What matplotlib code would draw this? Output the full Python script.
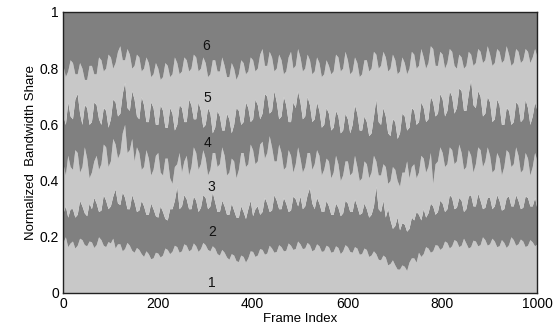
import numpy as np
import matplotlib
matplotlib.use('Agg')
import matplotlib.pyplot as plt

plt.rcParams['font.family'] = ['Liberation Sans', 'DejaVu Sans']

# frame index, sampled every 5 frames
frames = np.arange(0, 1001, 5)

# cumulative share at the top of layers 1..5
top1 = [0.18, 0.2, 0.165, 0.178, 0.185, 0.16, 0.17, 0.195, 0.19, 0.172,
        0.168, 0.185, 0.182, 0.162, 0.172, 0.2, 0.19, 0.17, 0.165, 0.183,
        0.178, 0.195, 0.16, 0.175, 0.175, 0.15, 0.158, 0.18, 0.17, 0.152,
        0.145, 0.162, 0.155, 0.14, 0.13, 0.15, 0.14, 0.122, 0.125, 0.145,
        0.142, 0.128, 0.135, 0.16, 0.155, 0.14, 0.148, 0.17, 0.165, 0.145,
        0.15, 0.175, 0.17, 0.15, 0.155, 0.178, 0.168, 0.148, 0.158, 0.18,
        0.172, 0.155, 0.15, 0.168, 0.16, 0.14, 0.135, 0.155, 0.145, 0.128,
        0.12, 0.14, 0.135, 0.115, 0.112, 0.135, 0.13, 0.11, 0.125, 0.15,
        0.148, 0.13, 0.135, 0.158, 0.155, 0.138, 0.142, 0.17, 0.16, 0.145,
        0.148, 0.172, 0.165, 0.15, 0.152, 0.178, 0.17, 0.155, 0.158, 0.185,
        0.175, 0.158, 0.16, 0.18, 0.172, 0.15, 0.155, 0.175, 0.168, 0.148,
        0.15, 0.17, 0.165, 0.145, 0.148, 0.168, 0.162, 0.14, 0.15, 0.172,
        0.165, 0.148, 0.145, 0.165, 0.16, 0.138, 0.14, 0.16, 0.155, 0.13,
        0.135, 0.15, 0.14, 0.12, 0.118, 0.135, 0.128, 0.1, 0.105, 0.118,
        0.1, 0.085, 0.085, 0.1, 0.095, 0.08, 0.11, 0.125, 0.125, 0.11,
        0.145, 0.13, 0.14, 0.165, 0.16, 0.145, 0.15, 0.172, 0.17, 0.155,
        0.162, 0.185, 0.18, 0.16, 0.168, 0.19, 0.185, 0.165, 0.17, 0.195,
        0.178, 0.16, 0.165, 0.188, 0.185, 0.168, 0.172, 0.2, 0.19, 0.17,
        0.175, 0.195, 0.185, 0.165, 0.168, 0.19, 0.18, 0.162, 0.172, 0.2,
        0.19, 0.17, 0.175, 0.192, 0.185, 0.165, 0.17, 0.19, 0.182, 0.168,
        0.175]
top2 = [0.285, 0.31, 0.27, 0.3, 0.3, 0.27, 0.28, 0.33, 0.31, 0.285,
        0.275, 0.32, 0.3, 0.34, 0.32, 0.29, 0.295, 0.35, 0.33, 0.3,
        0.31, 0.345, 0.37, 0.32, 0.315, 0.36, 0.34, 0.3, 0.3, 0.35,
        0.325, 0.29, 0.295, 0.33, 0.31, 0.28, 0.28, 0.32, 0.3, 0.275,
        0.27, 0.31, 0.29, 0.265, 0.26, 0.3, 0.3, 0.33, 0.38, 0.3,
        0.31, 0.35, 0.335, 0.3, 0.3, 0.345, 0.33, 0.29, 0.305, 0.35,
        0.34, 0.3, 0.31, 0.36, 0.325, 0.29, 0.29, 0.33, 0.31, 0.28,
        0.28, 0.32, 0.295, 0.27, 0.27, 0.31, 0.29, 0.265, 0.3, 0.33,
        0.275, 0.3, 0.31, 0.28, 0.29, 0.34, 0.32, 0.29, 0.295, 0.35,
        0.33, 0.3, 0.3, 0.34, 0.32, 0.29, 0.295, 0.345, 0.335, 0.31,
        0.345, 0.3, 0.31, 0.35, 0.375, 0.32, 0.3, 0.34, 0.32, 0.29,
        0.29, 0.33, 0.31, 0.28, 0.28, 0.32, 0.305, 0.275, 0.285, 0.33,
        0.32, 0.29, 0.29, 0.335, 0.31, 0.28, 0.285, 0.32, 0.3, 0.27,
        0.28, 0.31, 0.38, 0.3, 0.29, 0.33, 0.27, 0.3, 0.26, 0.23,
        0.24, 0.27, 0.225, 0.25, 0.245, 0.22, 0.23, 0.27, 0.26, 0.29,
        0.28, 0.26, 0.3, 0.27, 0.285, 0.32, 0.31, 0.28, 0.29, 0.33,
        0.32, 0.29, 0.3, 0.35, 0.34, 0.3, 0.305, 0.34, 0.33, 0.29,
        0.3, 0.345, 0.35, 0.31, 0.31, 0.355, 0.33, 0.3, 0.305, 0.34,
        0.34, 0.3, 0.31, 0.35, 0.33, 0.295, 0.3, 0.34, 0.345, 0.31,
        0.31, 0.35, 0.33, 0.3, 0.305, 0.345, 0.34, 0.31, 0.31, 0.34,
        0.3]
top3 = [0.46, 0.42, 0.49, 0.45, 0.44, 0.51, 0.5, 0.43, 0.45, 0.52,
        0.48, 0.41, 0.43, 0.47, 0.49, 0.44, 0.46, 0.53, 0.52, 0.45,
        0.47, 0.55, 0.53, 0.48, 0.5, 0.57, 0.6, 0.5, 0.51, 0.55,
        0.47, 0.52, 0.5, 0.44, 0.45, 0.51, 0.48, 0.42, 0.44, 0.49,
        0.5, 0.43, 0.42, 0.48, 0.48, 0.41, 0.39, 0.45, 0.46, 0.5,
        0.43, 0.47, 0.49, 0.42, 0.45, 0.52, 0.5, 0.44, 0.46, 0.51,
        0.48, 0.42, 0.44, 0.5, 0.5, 0.45, 0.46, 0.52, 0.49, 0.42,
        0.43, 0.48, 0.47, 0.41, 0.44, 0.5, 0.5, 0.45, 0.46, 0.53,
        0.51, 0.46, 0.47, 0.53, 0.54, 0.48, 0.5, 0.56, 0.52, 0.47,
        0.47, 0.53, 0.5, 0.44, 0.45, 0.51, 0.49, 0.43, 0.46, 0.52,
        0.48, 0.43, 0.45, 0.5, 0.5, 0.44, 0.46, 0.51, 0.49, 0.42,
        0.44, 0.48, 0.47, 0.41, 0.43, 0.49, 0.46, 0.4, 0.42, 0.47,
        0.47, 0.42, 0.43, 0.49, 0.45, 0.4, 0.41, 0.47, 0.46, 0.41,
        0.43, 0.49, 0.47, 0.42, 0.42, 0.46, 0.45, 0.39, 0.4, 0.45,
        0.44, 0.4, 0.38, 0.43, 0.43, 0.47, 0.41, 0.45, 0.46, 0.41,
        0.43, 0.49, 0.48, 0.43, 0.45, 0.5, 0.39, 0.46, 0.47, 0.52,
        0.5, 0.45, 0.46, 0.52, 0.51, 0.46, 0.47, 0.53, 0.5, 0.44,
        0.45, 0.51, 0.49, 0.43, 0.46, 0.52, 0.51, 0.45, 0.47, 0.52,
        0.49, 0.43, 0.44, 0.5, 0.48, 0.42, 0.45, 0.51, 0.5, 0.45,
        0.46, 0.52, 0.49, 0.43, 0.44, 0.5, 0.48, 0.42, 0.45, 0.5,
        0.47]
top4 = [0.63, 0.6, 0.68, 0.63, 0.62, 0.69, 0.71, 0.64, 0.6, 0.67,
        0.66, 0.6, 0.61, 0.68, 0.67, 0.62, 0.6, 0.66, 0.65, 0.59,
        0.62, 0.69, 0.68, 0.63, 0.64, 0.71, 0.75, 0.66, 0.65, 0.72,
        0.69, 0.63, 0.62, 0.7, 0.67, 0.61, 0.61, 0.68, 0.66, 0.6,
        0.6, 0.67, 0.65, 0.59, 0.59, 0.66, 0.64, 0.58, 0.6, 0.67,
        0.66, 0.61, 0.61, 0.69, 0.67, 0.62, 0.62, 0.68, 0.65, 0.59,
        0.6, 0.66, 0.64, 0.57, 0.59, 0.65, 0.63, 0.58, 0.58, 0.64,
        0.62, 0.57, 0.6, 0.66, 0.65, 0.6, 0.61, 0.68, 0.66, 0.61,
        0.62, 0.69, 0.67, 0.62, 0.64, 0.71, 0.7, 0.64, 0.65, 0.72,
        0.68, 0.62, 0.63, 0.7, 0.67, 0.61, 0.61, 0.68, 0.66, 0.72,
        0.68, 0.62, 0.63, 0.7, 0.67, 0.61, 0.62, 0.68, 0.65, 0.59,
        0.6, 0.66, 0.64, 0.58, 0.59, 0.65, 0.63, 0.57, 0.58, 0.64,
        0.62, 0.57, 0.6, 0.67, 0.64, 0.58, 0.58, 0.63, 0.61, 0.56,
        0.57, 0.63, 0.69, 0.61, 0.6, 0.66, 0.63, 0.57, 0.56, 0.62,
        0.61, 0.55, 0.57, 0.64, 0.63, 0.58, 0.59, 0.66, 0.65, 0.6,
        0.61, 0.68, 0.66, 0.61, 0.62, 0.7, 0.68, 0.63, 0.64, 0.71,
        0.69, 0.63, 0.65, 0.72, 0.7, 0.64, 0.66, 0.73, 0.72, 0.65,
        0.65, 0.71, 0.76, 0.67, 0.66, 0.72, 0.7, 0.63, 0.64, 0.7,
        0.68, 0.61, 0.62, 0.69, 0.67, 0.6, 0.6, 0.66, 0.65, 0.6,
        0.61, 0.68, 0.67, 0.61, 0.62, 0.69, 0.66, 0.6, 0.63, 0.68,
        0.65]
top5 = [0.81, 0.77, 0.79, 0.83, 0.82, 0.78, 0.78, 0.82, 0.8, 0.76,
        0.76, 0.81, 0.81, 0.78, 0.78, 0.84, 0.83, 0.79, 0.8, 0.85,
        0.84, 0.8, 0.82, 0.86, 0.88, 0.83, 0.83, 0.87, 0.85, 0.8,
        0.81, 0.85, 0.84, 0.79, 0.8, 0.84, 0.82, 0.77, 0.78, 0.82,
        0.8, 0.76, 0.77, 0.82, 0.81, 0.77, 0.78, 0.84, 0.82, 0.78,
        0.79, 0.84, 0.83, 0.79, 0.8, 0.85, 0.84, 0.79, 0.8, 0.84,
        0.82, 0.77, 0.78, 0.83, 0.83, 0.79, 0.79, 0.84, 0.81, 0.77,
        0.77, 0.82, 0.8, 0.76, 0.78, 0.83, 0.82, 0.78, 0.79, 0.84,
        0.83, 0.79, 0.8, 0.85, 0.87, 0.81, 0.81, 0.86, 0.84, 0.79,
        0.8, 0.85, 0.83, 0.78, 0.79, 0.84, 0.86, 0.8, 0.81, 0.87,
        0.84, 0.79, 0.8, 0.85, 0.83, 0.78, 0.79, 0.84, 0.82, 0.77,
        0.78, 0.83, 0.81, 0.78, 0.79, 0.85, 0.84, 0.79, 0.8, 0.86,
        0.83, 0.78, 0.79, 0.84, 0.82, 0.77, 0.78, 0.83, 0.83, 0.79,
        0.8, 0.86, 0.85, 0.8, 0.81, 0.86, 0.84, 0.79, 0.8, 0.85,
        0.83, 0.78, 0.79, 0.84, 0.82, 0.78, 0.8, 0.86, 0.85, 0.8,
        0.81, 0.87, 0.84, 0.8, 0.82, 0.88, 0.87, 0.81, 0.81, 0.86,
        0.85, 0.8, 0.82, 0.87, 0.86, 0.81, 0.8, 0.85, 0.84, 0.8,
        0.81, 0.86, 0.85, 0.81, 0.82, 0.87, 0.86, 0.82, 0.83, 0.88,
        0.85, 0.81, 0.82, 0.87, 0.86, 0.82, 0.83, 0.88, 0.85, 0.81,
        0.82, 0.87, 0.86, 0.82, 0.83, 0.87, 0.86, 0.82, 0.84, 0.87,
        0.84]

layer_names = ['1', '2', '3', '4', '5', '6']
label_frame = [315, 315, 313, 305, 305, 302]
label_share = [0.035, 0.217, 0.377, 0.534, 0.694, 0.879]

n = len(frames)
tops = [np.zeros(n), top1, top2, top3, top4, top5, np.ones(n)]

light, dark = '#c8c8c8', '#808080'
colors = [light, dark, light, dark, light, dark]

fig = plt.figure(figsize=(5.56, 3.35), dpi=100)
ax = fig.add_axes([0.1133, 0.1254, 0.8525, 0.8388])
for i in range(6):
    ax.fill_between(frames, tops[i], tops[i + 1],
                    color=colors[i], linewidth=0)

for name, fx, fy in zip(layer_names, label_frame, label_share):
    ax.text(fx, fy, name, ha='center', va='center', fontsize=10, color='#111111')

ax.set_xlim(0, 1000)
ax.set_ylim(0, 1)
ax.set_xticks(np.arange(0, 1001, 200))
ax.set_yticks([0, 0.2, 0.4, 0.6, 0.8, 1])
ax.set_yticklabels(['0', '0.2', '0.4', '0.6', '0.8', '1'])
ax.tick_params(length=0, labelsize=10, pad=3)
ax.set_xlabel('Frame Index', fontsize=9.5, labelpad=1)
ax.set_ylabel('Normalized  Bandwidth Share', fontsize=9.5, labelpad=2)
for s in ax.spines.values():
    s.set_color('#222222')
    s.set_linewidth(1.0)

fig.savefig('out.png', dpi=100)
